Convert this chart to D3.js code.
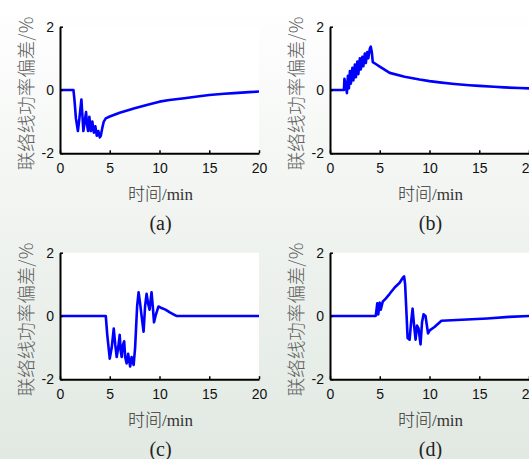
<!DOCTYPE html>
<html>
<head>
<meta charset="utf-8">
<script src="https://cdn.jsdelivr.net/npm/d3@7"></script>
<style>
  body { margin: 0; padding: 0; overflow: hidden; }
  svg { display: block; }
</style>
</head>
<body>
<svg id="chart"></svg>
<script>
// chart size
var width = 529
var height = 459

// tick labels
var xTicks = [0, 5, 10, 15, 20]
var yTicks = [-2, 0, 2]
var xTitle = "时间"
var xUnit = "/min"
var yTitle = "联络线功率偏差/%"
var captions = ["(a)", "(b)", "(c)", "(d)"]

// (a) time (min) and tie-line power deviation (%)
var tA = [0, 1.35, 1.45, 1.6, 1.8, 1.95, 2.15, 2.25, 2.35, 2.5, 2.62, 2.72, 2.82, 2.95, 3.1, 3.25, 3.4, 3.55, 3.7, 3.85, 4.0, 4.1, 4.25, 4.4, 4.6, 5, 6, 7.5, 9, 10, 11, 12.5, 14, 15, 16.5, 17.5, 19, 20]
var vA = [0, 0, -0.3, -0.9, -1.3, -0.9, -0.3, -0.8, -1.3, -0.95, -0.7, -1.1, -1.3, -0.85, -1.3, -1.0, -1.35, -1.15, -1.45, -1.3, -1.5, -1.45, -1.2, -1.0, -0.9, -0.84, -0.72, -0.58, -0.45, -0.37, -0.32, -0.26, -0.2, -0.16, -0.12, -0.1, -0.07, -0.05]

// (b)
var tB = [0, 1.4, 1.45, 1.55, 1.7, 1.8, 1.9, 2.0, 2.1, 2.25, 2.35, 2.5, 2.6, 2.75, 2.85, 3.0, 3.1, 3.25, 3.35, 3.5, 3.6, 3.75, 3.85, 4.0, 4.1, 4.2, 4.3, 4.6, 5, 6, 7.5, 9, 10, 11, 12.5, 14, 15, 16.5, 17.5, 19, 20]
var vB = [0, 0, 0.35, 0.2, -0.1, 0.45, 0.05, 0.6, 0.2, 0.7, 0.3, 0.8, 0.4, 0.9, 0.5, 1.0, 0.65, 1.05, 0.75, 1.15, 0.85, 1.2, 1.0, 1.3, 1.37, 1.2, 0.88, 0.82, 0.74, 0.54, 0.42, 0.33, 0.28, 0.24, 0.19, 0.15, 0.13, 0.1, 0.08, 0.06, 0.05]

// (c)
var tC = [0, 4.6, 4.75, 5.0, 5.2, 5.4, 5.55, 5.7, 5.85, 6.0, 6.1, 6.2, 6.3, 6.45, 6.55, 6.7, 6.85, 7.05, 7.2, 7.4, 7.55, 7.75, 7.9, 8.05, 8.2, 8.4, 8.55, 8.7, 8.85, 9.0, 9.2, 9.3, 9.45, 9.6, 9.9, 10.2, 10.6, 11.0, 11.4, 11.7, 20]
var vC = [0, 0, -0.6, -1.35, -1.0, -0.4, -0.9, -1.3, -1.0, -0.6, -1.1, -1.3, -0.95, -0.8, -1.3, -1.5, -1.2, -1.6, -1.3, -1.55, -1.0, 0.3, 0.75, 0.4, 0.0, -0.5, 0.3, 0.7, 0.4, 0.2, 0.75, 0.4, -0.2, 0.0, 0.3, 0.25, 0.2, 0.12, 0.05, 0.0, 0.0]

// (d)
var tD = [0, 4.6, 4.75, 4.85, 5.0, 5.1, 5.3, 5.6, 6.0, 6.5, 7.0, 7.3, 7.45, 7.55, 7.7, 7.8, 8.0, 8.15, 8.3, 8.45, 8.6, 8.75, 8.9, 9.1, 9.25, 9.4, 9.6, 9.85, 10.05, 10.5, 11.2, 12.75, 15.8, 18, 20]
var vD = [0, 0, 0.4, 0.05, 0.42, 0.2, 0.45, 0.55, 0.7, 0.9, 1.05, 1.2, 1.25, 1.0, 0.0, -0.7, -0.75, -0.2, 0.23, -0.3, -0.75, -0.3, -0.4, -0.9, -0.2, 0.05, 0.0, -0.55, -0.45, -0.35, -0.15, -0.13, -0.08, -0.03, 0.0]

var series = [[tA, vA], [tB, vB], [tC, vC], [tD, vD]]

// panel placement (left, top of plot area)
var panels = [
    { left: 60, top: 26.7 },
    { left: 330, top: 26.7 },
    { left: 60, top: 252.7 },
    { left: 330, top: 252.7 }
]
var plotW = 199
var plotH = 126.5

var svg = d3.select("#chart")
    .attr("width", width)
    .attr("height", height)

// slide-like background gradient
var grad = svg.append("defs").append("linearGradient")
    .attr("id", "bg")
    .attr("x1", 0).attr("y1", 0).attr("x2", 0).attr("y2", 1)
grad.append("stop").attr("offset", "0%").attr("stop-color", "#ffffff")
grad.append("stop").attr("offset", "45%").attr("stop-color", "#f1f4f1")
grad.append("stop").attr("offset", "100%").attr("stop-color", "#e1e9e2")

svg.append("rect")
    .attr("width", width)
    .attr("height", height)
    .attr("fill", "url(#bg)")

var x = d3.scaleLinear().domain([0, 20]).range([0, plotW])
var y = d3.scaleLinear().domain([-2, 2]).range([plotH, 0])

var line = d3.line()
    .x((d) => x(d[0]))
    .y((d) => y(d[1]))

series.forEach(function (s, i) {
    var p = panels[i]
    var g = svg.append("g")
        .attr("transform", "translate(" + p.left + "," + p.top + ")")

    // white plot area
    g.append("rect")
        .attr("width", plotW)
        .attr("height", plotH)
        .attr("fill", "#ffffff")

    var pts = d3.zip(s[0], s[1])
    g.append("path")
        .datum(pts)
        .attr("d", line)
        .attr("fill", "none")
        .attr("stroke", "#0000ff")
        .attr("stroke-width", 2.6)
        .attr("stroke-linejoin", "round")

    var xAxis = g.append("g")
        .attr("transform", "translate(0," + plotH + ")")
        .call(d3.axisBottom(x).tickValues(xTicks).tickSizeInner(-3).tickSizeOuter(0).tickPadding(10).tickFormat((d) => String(d)))
    var yAxis = g.append("g")
        .call(d3.axisLeft(y).tickValues(yTicks).tickSizeInner(-3).tickSizeOuter(0).tickPadding(6).tickFormat((d) => String(d)))

    ;[xAxis, yAxis].forEach(function (a) {
        a.select(".domain").attr("stroke", "#000").attr("stroke-width", 2)
        a.selectAll(".tick line").attr("stroke", "#000").attr("stroke-width", 1.5)
        a.selectAll(".tick text")
            .attr("fill", "#111")
            .style("font-family", "'Liberation Sans', Arial, sans-serif")
            .style("font-size", "14px")
    })

    // y title
    g.append("text")
        .attr("transform", "translate(" + (-35) + "," + (plotH / 2 + 3.5) + ") rotate(-90)")
        .attr("text-anchor", "middle")
        .attr("dominant-baseline", "central")
        .attr("fill", "#606060")
        .style("font-family", "'Noto Sans CJK SC', sans-serif")
        .style("font-weight", 300)
        .style("font-size", "18.5px")
        .text(yTitle)

    // x title
    var xt = g.append("text")
        .attr("x", plotW / 2 + 1)
        .attr("y", plotH + 47)
        .attr("text-anchor", "middle")
        .attr("fill", "#333")
        .style("font-size", "17px")
    xt.append("tspan")
        .style("font-family", "'Noto Sans CJK SC', sans-serif")
        .style("font-weight", 300)
        .text(xTitle)
    xt.append("tspan")
        .style("font-family", "'Liberation Serif', serif")
        .text(xUnit)

    // caption
    g.append("text")
        .attr("x", plotW / 2 + 1)
        .attr("y", plotH + 77)
        .attr("text-anchor", "middle")
        .attr("fill", "#222")
        .style("font-family", "'Liberation Serif', serif")
        .style("font-size", "20px")
        .text(captions[i])
})
</script>
</body>
</html>
